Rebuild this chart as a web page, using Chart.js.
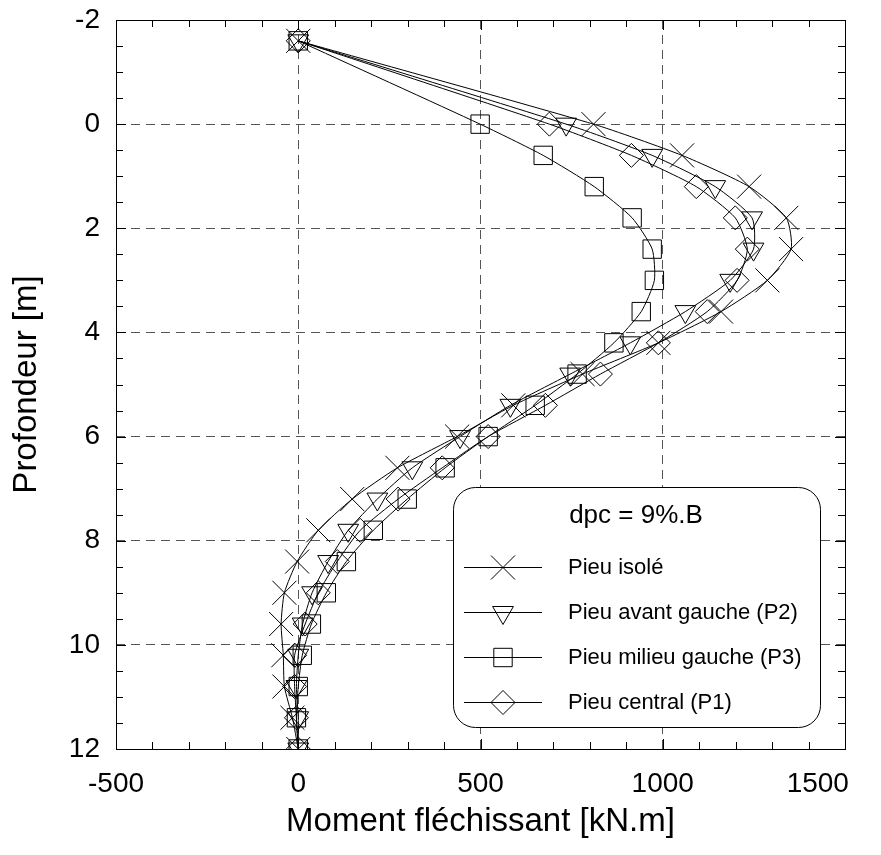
<!DOCTYPE html>
<html>
<head>
<meta charset="utf-8">
<script src="https://cdn.jsdelivr.net/npm/chart.js@4/dist/chart.umd.min.js"></script>
<style>
  html, body { margin: 0; padding: 0; background: #fff; }
  #wrap { width: 881px; height: 855px; }
</style>
</head>
<body>
<div id="wrap"><canvas id="myChart" width="881" height="855"></canvas></div>
<script>
// profondeurs (m)
const profondeur = [-1.6, 0, 0.6, 1.2, 1.8, 2.4, 3.0, 3.6, 4.2, 4.8, 5.4, 6.0, 6.6, 7.2, 7.8, 8.4, 9.0, 9.6, 10.2, 10.8, 11.4, 12.0];

// moments (kN.m)
const pieuIsole   = [0, 810, 1053, 1237, 1339, 1352, 1287, 1160, 988, 780, 590, 436, 272, 148, 55, -3, -38, -47, -41, -38, -16, 0];
const pieuAvantP2 = [0, 735, 971, 1144, 1245, 1249, 1185, 1062, 911, 746, 582, 444, 313, 217, 137, 82, 38, 12, 0, -5, 0, 0];
const pieuMilieuP3 = [0, 499, 672, 812, 916, 971, 977, 941, 866, 765, 650, 521, 403, 299, 206, 132, 77, 36, 11, 0, -5, 0];
const pieuCentralP1 = [0, 689, 914, 1092, 1199, 1232, 1204, 1122, 988, 829, 678, 521, 395, 274, 170, 107, 55, 19, -10, -10, -5, 0];

const labels = ['Pieu isolé', 'Pieu avant gauche (P2)', 'Pieu milieu gauche (P3)', 'Pieu central (P1)'];
const legendTitle = 'dpc = 9%.B';

const xTicks = [-500, 0, 500, 1000, 1500];
const yTicks = [-2, 0, 2, 4, 6, 8, 10, 12];

const FONT = "'Liberation Sans', Arial, sans-serif";

function pts(vals) {
    return vals.map((v, i) => ({x: v, y: profondeur[i]}));
}

// formes des marqueurs
const styles = [
    {pointStyle: 'crossRot', radius: 17, rotation: 0},
    {pointStyle: 'triangle', radius: 12, rotation: 180},
    {pointStyle: 'rect', radius: 13, rotation: 0},
    {pointStyle: 'rectRot', radius: 12, rotation: 0}
];

const series = [pieuIsole, pieuAvantP2, pieuMilieuP3, pieuCentralP1];

const datasets = series.map((s, i) => ({
    label: labels[i],
    data: pts(s),
    showLine: true,
    borderColor: '#000',
    borderWidth: 1,
    tension: 0.2,
    pointStyle: styles[i].pointStyle,
    pointRadius: styles[i].radius,
    pointRotation: styles[i].rotation,
    pointBorderColor: '#000',
    pointBackgroundColor: 'rgba(0,0,0,0)',
    pointBorderWidth: 1
}));

// pas de marge auto pour les etiquettes en bout d'axe
function noPad(scale) {
    scale.paddingTop = 0; scale.paddingBottom = 0;
    scale.paddingLeft = 0; scale.paddingRight = 0;
}

// cadre, petites graduations et legende
const framePlugin = {
    id: 'frame',
    afterDraw(chart) {
        const ctx = chart.ctx;
        const a = chart.chartArea;
        const xs = chart.scales.x, ys = chart.scales.y;
        ctx.save();
        ctx.strokeStyle = '#000';
        ctx.lineWidth = 1;
        ctx.setLineDash([]);
        ctx.beginPath();
        for (let v = -500; v <= 1500; v += 100) {
            const px = Math.round(xs.getPixelForValue(v)) + 0.5;
            const len = v % 500 === 0 ? 10 : 7;
            ctx.moveTo(px, a.bottom); ctx.lineTo(px, a.bottom - len);
            ctx.moveTo(px, a.top); ctx.lineTo(px, a.top + len);
        }
        for (let v = -2; v <= 12; v += 0.5) {
            const py = Math.round(ys.getPixelForValue(v)) + 0.5;
            const len = v % 2 === 0 ? 10 : 7;
            ctx.moveTo(a.left, py); ctx.lineTo(a.left + len, py);
            ctx.moveTo(a.right, py); ctx.lineTo(a.right - len, py);
        }
        ctx.stroke();
        ctx.strokeRect(Math.round(a.left) + 0.5, Math.round(a.top) + 0.5, Math.round(a.right - a.left), Math.round(a.bottom - a.top));

        // legende
        const bx = 453.5, by = 487.5, bw = 367, bh = 240, r = 22;
        ctx.beginPath();
        ctx.moveTo(bx + r, by);
        ctx.arcTo(bx + bw, by, bx + bw, by + bh, r);
        ctx.arcTo(bx + bw, by + bh, bx, by + bh, r);
        ctx.arcTo(bx, by + bh, bx, by, r);
        ctx.arcTo(bx, by, bx + bw, by, r);
        ctx.closePath();
        ctx.fillStyle = '#fff';
        ctx.fill();
        ctx.stroke();

        ctx.fillStyle = '#000';
        ctx.textBaseline = 'middle';
        ctx.textAlign = 'center';
        ctx.font = '26px ' + FONT;
        ctx.fillText(legendTitle, 636, 516);

        ctx.textAlign = 'left';
        ctx.font = '22px ' + FONT;
        const rows = [567, 612, 657, 702];
        rows.forEach((y, i) => {
            ctx.strokeStyle = '#000';
            ctx.lineWidth = 1;
            ctx.beginPath();
            ctx.moveTo(464, y + 0.5); ctx.lineTo(542, y + 0.5);
            ctx.stroke();
            ctx.fillStyle = 'rgba(0,0,0,0)';
            Chart.helpers.drawPoint(ctx, {
                pointStyle: styles[i].pointStyle,
                radius: styles[i].radius,
                rotation: styles[i].rotation,
                borderWidth: 1
            }, 503, y + 0.5);
            ctx.fillStyle = '#000';
            ctx.fillText(labels[i], 568, y + 1);
        });
        ctx.restore();
    }
};

const ctx = document.getElementById('myChart').getContext('2d');
const chart = new Chart(ctx, {
    type: 'scatter',
    data: { datasets: datasets },
    options: {
        responsive: false,
        animation: false,
        layout: { padding: { left: 7, right: 36, top: 20, bottom: 0 } },
        plugins: {
            legend: { display: false },
            tooltip: { enabled: false }
        },
        scales: {
            x: {
                type: 'linear',
                min: -500, max: 1500,
                afterFit(scale) { scale.height = 106; noPad(scale); },
                afterBuildTicks(scale) { scale.ticks = xTicks.map(v => ({value: v})); },
                ticks: { color: '#000', padding: 18, font: { family: FONT, size: 28 },
                         // derniere etiquette decalee vers la gauche comme sur l'original
                         callback: v => v === 1500 ? String(v) + '\u00a0'.repeat(7) : String(v) },
                grid: { color: '#555', drawTicks: false, lineWidth: 1 },
                border: { display: false, dash: [9, 6] },
                title: { display: true, text: 'Moment fléchissant [kN.m]', color: '#000',
                         font: { family: FONT, size: 33 }, padding: { top: 0, bottom: 13 } }
            },
            y: {
                type: 'linear',
                reverse: true,
                min: -2, max: 12,
                afterFit(scale) { scale.width = 109; noPad(scale); },
                afterBuildTicks(scale) { scale.ticks = yTicks.map(v => ({value: v})); },
                ticks: { color: '#000', padding: 16, font: { family: FONT, size: 28 },
                         callback: v => String(v) },
                grid: { color: '#555', drawTicks: false, lineWidth: 1 },
                border: { display: false, dash: [9, 6] },
                title: { display: true, text: 'Profondeur [m]', color: '#000',
                         font: { family: FONT, size: 33 }, padding: 0 }
            }
        }
    },
    plugins: [framePlugin]
});
</script>
</body>
</html>
